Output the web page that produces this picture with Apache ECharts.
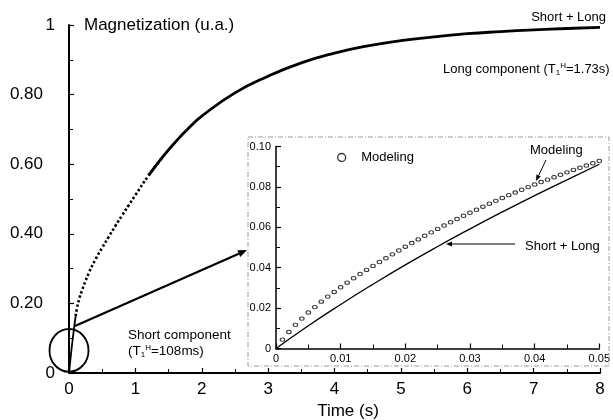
<!DOCTYPE html>
<html>
<head>
<meta charset="utf-8">
<script src="https://cdn.jsdelivr.net/npm/echarts@6/dist/echarts.min.js"></script>
<style>
html, body { margin: 0; padding: 0; background: #fff; }
#chart { width: 613px; height: 420px; }
</style>
</head>
<body>
<div id="chart"></div>
<script>
// main curve (time in s, magnetization)
var mainTime = [0, 0.02, 0.04, 0.06, 0.08, 0.1, 0.12, 0.15, 0.2, 0.25, 0.3, 0.4, 0.5, 0.6, 0.7, 0.8, 0.9, 1.0,
  1.2, 1.4, 1.6, 1.8, 2.0, 2.5, 3.0, 3.5, 4.0, 4.5, 5.0, 5.5, 6.0, 6.5, 7.0, 7.5, 8.0];
var mainMag = [0, 0.036, 0.072, 0.104, 0.135, 0.163, 0.186, 0.21, 0.24, 0.265, 0.288, 0.327, 0.36, 0.392, 0.423, 0.453, 0.482, 0.511,
  0.568, 0.618, 0.663, 0.703, 0.738, 0.805, 0.853, 0.891, 0.919, 0.94, 0.955, 0.966, 0.975, 0.981, 0.986, 0.99, 0.993];

// inset: modeling points (every ms) and the short + long line
var insetTime = [0.001, 0.002, 0.003, 0.004, 0.005, 0.006, 0.007, 0.008, 0.009, 0.010,
  0.011, 0.012, 0.013, 0.014, 0.015, 0.016, 0.017, 0.018, 0.019, 0.020,
  0.021, 0.022, 0.023, 0.024, 0.025, 0.026, 0.027, 0.028, 0.029, 0.030,
  0.031, 0.032, 0.033, 0.034, 0.035, 0.036, 0.037, 0.038, 0.039, 0.040,
  0.041, 0.042, 0.043, 0.044, 0.045, 0.046, 0.047, 0.048, 0.049, 0.050];
var insetModel = [0.0044, 0.0082, 0.0117, 0.0148, 0.0178, 0.0205, 0.0232, 0.0257, 0.0280, 0.0303,
  0.0326, 0.0348, 0.0369, 0.0389, 0.0409, 0.0428, 0.0447, 0.0466, 0.0485, 0.0504,
  0.0522, 0.0540, 0.0558, 0.0575, 0.0592, 0.0609, 0.0625, 0.0641, 0.0657, 0.0672,
  0.0687, 0.0702, 0.0717, 0.0731, 0.0745, 0.0759, 0.0772, 0.0786, 0.0799, 0.0812,
  0.0824, 0.0836, 0.0848, 0.0860, 0.0872, 0.0884, 0.0895, 0.0906, 0.0917, 0.0928];
var lineTime = [0, 0.005, 0.01, 0.015, 0.02, 0.025, 0.03, 0.035, 0.04, 0.045, 0.05];
var lineMag = [0, 0.0113, 0.0218, 0.0318, 0.0414, 0.0505, 0.0592, 0.0676, 0.0757, 0.0835, 0.0912];

var mainXLabels = ['0', '1', '2', '3', '4', '5', '6', '7', '8'];
var mainYLabels = ['0', '0.20', '0.40', '0.60', '0.80', '1'];
var insetXLabels = ['0', '0.01', '0.02', '0.03', '0.04', '0.05'];
var insetYLabels = ['0', '0.02', '0.04', '0.06', '0.08', '0.10'];

var FONT = 'Liberation Sans, Arial, sans-serif';
var INK = '#000';

function pairs(xs, ys, lo, hi) {
  var out = [];
  for (var i = 0; i < xs.length; i++) {
    if (xs[i] >= lo && xs[i] <= hi) out.push([xs[i], ys[i]]);
  }
  return out;
}

function valueAxis(grid, min, max, step, labels, size, width, margin) {
  return {
    gridIndex: grid, type: 'value', min: min, max: max, interval: step,
    axisLine: { onZero: false, lineStyle: { color: INK, width: width } },
    axisTick: { inside: true, length: 5, lineStyle: { color: INK, width: 1.2 } },
    minorTick: { show: true, splitNumber: 2, length: 4, lineStyle: { color: INK, width: 1 } },
    splitLine: { show: false },
    axisLabel: {
      margin: margin, color: INK, fontFamily: FONT, fontSize: size,
      formatter: function (v) { return labels[Math.round((v - min) / step)]; }
    }
  };
}

var chart = echarts.init(document.getElementById('chart'));

var mainY = valueAxis(0, 0, 1, 0.2, mainYLabels, 17, 2, 14);
mainY.axisLabel.formatter = function (v) {
  var s = mainYLabels[Math.round(v / 0.2)];
  return s.length > 1 ? '{d|' + s + '}' : s;
};
mainY.axisLabel.rich = { d: { padding: [0, 12, 0, 0], fontSize: 17, fontFamily: FONT, color: INK } };

chart.setOption({
  animation: false,
  backgroundColor: '#fff',
  grid: [
    { left: 69, right: 13, top: 25, bottom: 47 },
    { left: 276, right: 13, top: 146.5, bottom: 71.5 }
  ],
  xAxis: [
    valueAxis(0, 0, 8, 1, mainXLabels, 17, 2, 8),
    valueAxis(1, 0, 0.05, 0.01, insetXLabels, 11, 1.5, 5)
  ],
  yAxis: [
    mainY,
    valueAxis(1, 0, 0.1, 0.02, insetYLabels, 11, 1.5, 5)
  ],
  legend: {
    left: 332, top: 146, itemWidth: 11, itemHeight: 8, itemGap: 10,
    textStyle: { color: INK, fontFamily: FONT, fontSize: 13, padding: [0, 0, 0, 9] },
    data: [{ name: 'Modeling', icon: 'circle', itemStyle: { color: '#fff', borderColor: INK, borderWidth: 1.3 } }]
  },
  series: [
    {
      name: 'Short + Long (main, early)', type: 'line', xAxisIndex: 0, yAxisIndex: 0,
      data: pairs(mainTime, mainMag, 0, 0.1), showSymbol: false, smooth: true,
      lineStyle: { color: INK, width: 1.8 }
    },
    {
      name: 'Modeling (main)', type: 'line', xAxisIndex: 0, yAxisIndex: 0,
      data: pairs(mainTime, mainMag, 0.1, 1.4), showSymbol: false, smooth: true,
      lineStyle: { color: INK, width: 2.6, type: [2.5, 2.2], cap: 'butt' }
    },
    {
      name: 'Short + Long (main)', type: 'line', xAxisIndex: 0, yAxisIndex: 0,
      data: pairs(mainTime, mainMag, 1.2, 8), showSymbol: false, smooth: true,
      lineStyle: { color: INK, width: 2.8 }
    },
    {
      name: 'Short + Long', type: 'line', xAxisIndex: 1, yAxisIndex: 1,
      data: pairs(lineTime, lineMag, 0, 1), showSymbol: false, smooth: true,
      lineStyle: { color: INK, width: 1.3 }
    },
    {
      name: 'Modeling', type: 'scatter', xAxisIndex: 1, yAxisIndex: 1,
      data: pairs(insetTime, insetModel, 0, 1), symbol: 'circle', symbolSize: [4.5, 3.5],
      itemStyle: { color: '#fff', borderColor: INK, borderWidth: 1 }, z: 5
    }
  ]
});

function arrow(x1, y1, x2, y2, head, w) {
  var a = Math.atan2(y2 - y1, x2 - x1);
  var bx = x2 - head * Math.cos(a), by = y2 - head * Math.sin(a);
  var px = -Math.sin(a) * head * 0.4, py = Math.cos(a) * head * 0.4;
  return [
    { type: 'line', shape: { x1: x1, y1: y1, x2: bx, y2: by }, style: { stroke: INK, lineWidth: w } },
    { type: 'polygon', shape: { points: [[x2, y2], [bx + px, by + py], [bx - px, by - py]] }, style: { fill: INK } }
  ];
}

function label(x, y, text, size, align, rich) {
  var st = { x: x, y: y, text: text, fill: INK, font: size + 'px ' + FONT, textAlign: align || 'left', textVerticalAlign: 'middle' };
  if (rich) st.rich = rich;
  return { type: 'text', style: st, z: 10 };
}

var subSup = {
  sub: { fontSize: 8, fontFamily: FONT, fill: INK, verticalAlign: 'bottom', lineHeight: 15 },
  sup: { fontSize: 8, fontFamily: FONT, fill: INK, verticalAlign: 'top', lineHeight: 15 }
};

var c = chart.convertToPixel({ gridIndex: 0 }, [0, 0.065]);
var s = chart.convertToPixel({ gridIndex: 0 }, [0.09, 0.135]);
var g = [
  { type: 'rect', shape: { x: 248, y: 137, width: 361, height: 229 },
    style: { fill: 'none', stroke: '#9a9a9a', lineWidth: 1, lineDash: [5, 2, 1, 2] }, z: 1 },
  { type: 'circle', x: c[0], y: c[1], scaleY: 1.1, shape: { cx: 0, cy: 0, r: 19.5 },
    style: { fill: 'none', stroke: INK, lineWidth: 1.8 }, z: 10 },
  label(84, 25, 'Magnetization (u.a.)', 17),
  label(348, 411, 'Time (s)', 17, 'center'),
  label(606, 17, 'Short + Long', 13, 'right'),
  label(443, 69, 'Long component (T{sub|1}{sup|H}=1.73s)', 13, 'left', subSup),
  label(128, 335, 'Short component', 13.5),
  label(128, 351, '(T{sub|1}{sup|H}=108ms)', 13.5, 'left', subSup),
  label(530, 150, 'Modeling', 13),
  label(525, 246, 'Short + Long', 13)
];
g = g.concat(arrow(s[0], s[1], 247, 250, 9, 2.2));
g = g.concat(arrow(546, 160, 536, 181, 6, 1));
g = g.concat(arrow(515, 244, 446, 244, 6, 1));
chart.setOption({ graphic: g });
</script>
</body>
</html>
